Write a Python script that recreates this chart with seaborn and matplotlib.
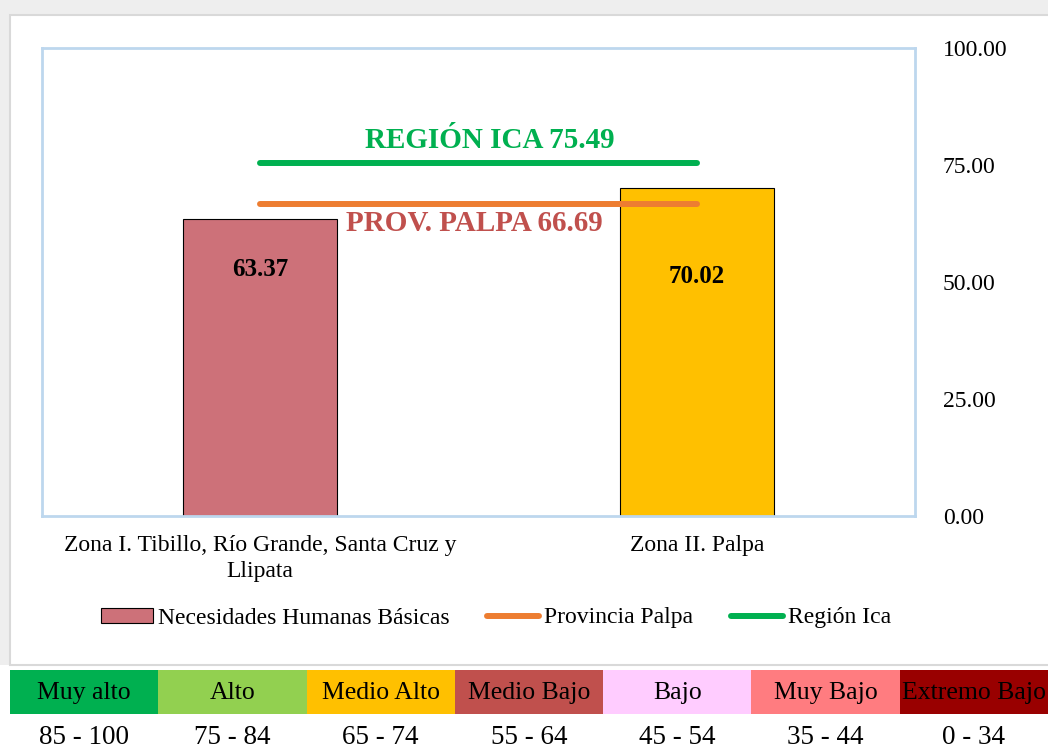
import matplotlib
matplotlib.use("Agg")
import matplotlib.pyplot as plt
import seaborn as sns
import pandas as pd
from matplotlib.patches import Patch, Rectangle
from matplotlib.lines import Line2D

# datos
zonas = ["Zona I. Tibillo, Río Grande, Santa Cruz y\nLlipata", "Zona II. Palpa"]
nhb = [63.37, 70.02]
prov_palpa = 66.69
region_ica = 75.49
bar_colors = ["#CD7179", "#FFC000"]

niveles = ["Muy alto", "Alto", "Medio Alto", "Medio Bajo", "Bajo", "Muy Bajo", "Extremo Bajo"]
rangos = ["85 - 100", "75 - 84", "65 - 74", "55 - 64", "45 - 54", "35 - 44", "0 - 34"]
nivel_colors = ["#00B050", "#92D050", "#FFC000", "#C0504D", "#FFCCFF", "#FF7C80", "#990000"]

sns.set_theme(style="white")
plt.rcParams['font.family'] = ['Liberation Serif', 'DejaVu Serif']
plt.rcParams['text.color'] = 'black'

W, H = 1048, 749
fig = plt.figure(figsize=(W / 100, H / 100), dpi=100, facecolor="#eeeeee")

# fondo del gráfico y de la tabla
fig.patches.append(Rectangle((0, 0), 1, 1 - 665 / H, transform=fig.transFigure,
                             facecolor="white", edgecolor="none", zorder=-2))
fig.patches.append(Rectangle((10 / W, 1 - 665 / H), 1.0, (665 - 15) / H, transform=fig.transFigure,
                             facecolor="white", edgecolor="#d9d9d9", lw=1.5, zorder=-1))

ax = fig.add_axes([42 / W, 1 - 516 / H, (915 - 42) / W, (516 - 48) / H])
df = pd.DataFrame({"zona": zonas, "valor": nhb})
sns.barplot(data=df, x="zona", y="valor", hue="zona", palette=bar_colors, width=0.353,
            saturation=1, edgecolor="black", linewidth=0.8, legend=False, ax=ax, zorder=2)

ax.hlines(prov_palpa, 0, 1, color="#ED7D31", lw=4.3, capstyle="round", zorder=3)
ax.hlines(region_ica, 0, 1, color="#00B050", lw=4.3, capstyle="round", zorder=3)

ax.text(0.525, 80.3, f"REGIÓN ICA {region_ica:.2f}", color="#00B050", fontsize=21,
        fontweight="bold", ha="center", va="center", zorder=4)
ax.text(0.49, 62.4, f"PROV. PALPA {prov_palpa:.2f}", color="#C0504D", fontsize=21,
        fontweight="bold", ha="center", va="center", zorder=4)

label_y = [52.6, 51.1]
for i, v in enumerate(nhb):
    ax.text(i, label_y[i], f"{v:.2f}", ha="center", va="center", fontsize=18,
            fontweight="bold", color="black", zorder=4)

ax.set_xlim(-0.5, 1.5)
ax.set_ylim(0, 100)
ax.set_yticks([0, 25, 50, 75, 100])
ax.set_yticklabels([f"{t:.2f}" for t in [0, 25, 50, 75, 100]])
ax.yaxis.tick_right()
ax.tick_params(axis="y", length=0, pad=20, labelsize=17, colors="black")
ax.tick_params(axis="x", length=0, pad=14, labelsize=17, colors="black")
for lab in ax.get_xticklabels():
    lab.set_linespacing(1.3)
ax.set_xlabel("")
ax.set_ylabel("")
for s in ax.spines.values():
    s.set_edgecolor("#bdd7ee")
    s.set_linewidth(2)

handles = [Patch(facecolor=bar_colors[0], edgecolor="black", lw=0.8),
           Line2D([0], [0], color="#ED7D31", lw=4.3, solid_capstyle="round"),
           Line2D([0], [0], color="#00B050", lw=4.3, solid_capstyle="round")]
fig.legend(handles, ["Necesidades Humanas Básicas", "Provincia Palpa", "Región Ica"],
           loc="center", bbox_to_anchor=(496 / W, 1 - 618 / H), ncol=3, frameon=False,
           fontsize=17, handlelength=2.2, handleheight=0.6, handletextpad=0.2,
           columnspacing=1.6, labelcolor="black")

# tabla de niveles
tab = fig.add_axes([10 / W, 0, (W - 10) / W, (H - 670) / H])
tab.bar(range(len(niveles)), [44] * len(niveles), bottom=35, width=1.0, color=nivel_colors,
        edgecolor="none")
for i, (n, r) in enumerate(zip(niveles, rangos)):
    tab.text(i, 56, n, ha="center", va="center", fontsize=18.5, color="black")
    tab.text(i, 12, r, ha="center", va="center", fontsize=19.5, color="black")
tab.set_xlim(-0.5, len(niveles) - 0.5)
tab.set_ylim(0, 79)
tab.axis("off")

fig.savefig("out.png", dpi=100, facecolor=fig.get_facecolor())
